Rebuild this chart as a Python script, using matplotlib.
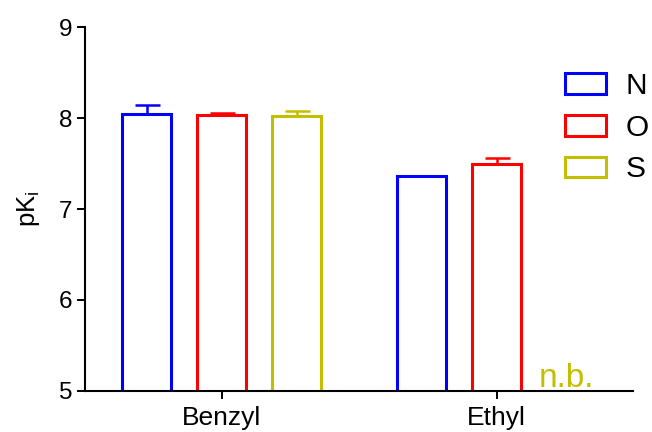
import matplotlib
matplotlib.use("Agg")
import matplotlib.pyplot as plt
from matplotlib.patches import Patch
import numpy as np

plt.rcParams['font.family'] = ['Liberation Sans', 'DejaVu Sans']
plt.rcParams['mathtext.fontset'] = 'custom'
plt.rcParams['mathtext.rm'] = 'Liberation Sans'
plt.rcParams['mathtext.it'] = 'Liberation Sans:italic'

# Data: mean pKi and SEM per substituent
groups = ["Benzyl", "Ethyl"]
series = ["N", "O", "S"]
colors = ["#0000FF", "#FF0000", "#C4BE00"]
means = {
    "N": [8.05, 7.36],
    "O": [8.03, 7.49],
    "S": [8.02, np.nan],
}
sems = {
    "N": [0.09, 0.0],
    "O": [0.025, 0.07],
    "S": [0.055, np.nan],
}
not_bound_label = "n.b."

fig = plt.figure(figsize=(6.52, 4.32), dpi=100)
ax = fig.add_axes([85 / 652, 1 - 390.7 / 432, (633.3 - 85) / 652, (390.7 - 27.3) / 432])

group_x = np.array([0.0, 3.667])
offsets = [-1.0, 0.0, 1.0]
bar_w = 0.653
lw_bar = 2.2

for s, c, off in zip(series, colors, offsets):
    x = group_x + off
    m = np.array(means[s])
    e = np.array(sems[s])
    ok = ~np.isnan(m)
    ax.bar(x[ok], m[ok], width=bar_w, facecolor="none", edgecolor=c,
           linewidth=lw_bar, zorder=2)
    ax.errorbar(x[ok], m[ok], yerr=[np.zeros(ok.sum()), e[ok]], fmt="none",
                ecolor=c, elinewidth=1.8, capsize=9, capthick=1.8, zorder=3)
    for xi, mi in zip(x, m):
        if np.isnan(mi):
            ax.text(xi - 0.07, 5.045, not_bound_label, color=c, fontsize=24,
                    ha="center", va="baseline")

ax.set_ylim(5, 9)
ax.set_xlim(-1.823, 5.488)
ax.set_yticks([5, 6, 7, 8, 9])
ax.set_xticks(group_x)
ax.set_xticklabels(groups, fontsize=19)
ax.tick_params(axis="y", labelsize=17.5, length=6, width=1.4, pad=3)
ax.tick_params(axis="x", length=6, width=1.4, pad=5)
for sp in ["top", "right"]:
    ax.spines[sp].set_visible(False)
for sp in ["left", "bottom"]:
    ax.spines[sp].set_linewidth(1.5)
    ax.spines[sp].set_zorder(4)

ax.set_ylabel(r"pK$_{\mathrm{i}}$", fontsize=18.5, labelpad=12)

handles = [Patch(facecolor="none", edgecolor=c, linewidth=lw_bar) for c in colors]
leg = ax.legend(handles, series, loc="upper left",
                bbox_to_anchor=(565 / 652, 1 - 72 / 432),
                bbox_transform=fig.transFigure, frameon=False, fontsize=21.5,
                handlelength=1.38, handleheight=0.7, handletextpad=0.65,
                labelspacing=0.46, borderpad=0, borderaxespad=0)

fig.savefig("out.png", dpi=100)
